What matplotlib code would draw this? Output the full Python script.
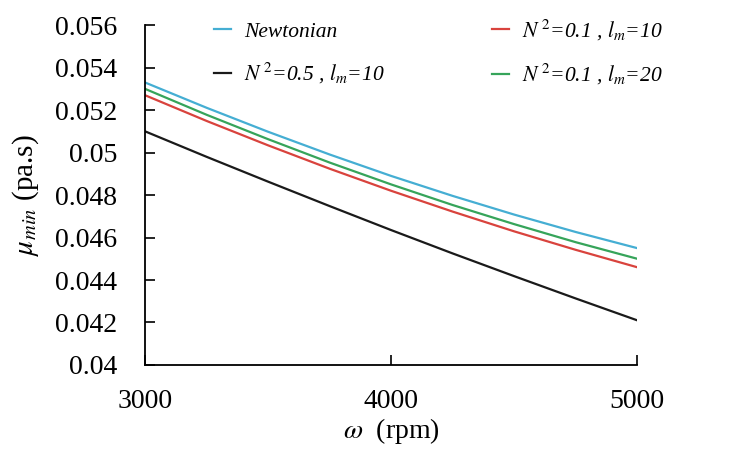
import numpy as np
import matplotlib.pyplot as plt

plt.rcParams['font.family'] = ['Liberation Serif', 'DejaVu Serif']
plt.rcParams['mathtext.fontset'] = 'stix'

# data
omega = [3000, 3250, 3500, 3750, 4000, 4250, 4500, 4750, 5000]
mu_newton = [0.0533, 0.05211, 0.05098, 0.04991, 0.0489, 0.04796, 0.04708, 0.04626, 0.0455]
mu_n05_l10 = [0.0510, 0.04980, 0.04863, 0.04748, 0.04635, 0.04525, 0.04418, 0.04313, 0.0421]
mu_n01_l10 = [0.0527, 0.05149, 0.05034, 0.04924, 0.0482, 0.04722, 0.04629, 0.04542, 0.0446]
mu_n01_l20 = [0.0530, 0.05178, 0.05063, 0.04953, 0.0485, 0.04753, 0.04663, 0.04578, 0.0450]

fig = plt.figure(figsize=(7.56, 4.5), dpi=100)
ax = fig.add_axes([0.192, 0.189, 0.651, 0.755])

l1, = ax.plot(omega, mu_newton, color='#45aed3', lw=1.6, label='Newtonian')
l2, = ax.plot(omega, mu_n05_l10, color='#1a1a1a', lw=1.6, label=r'$N^{\,2}$=0.5 , $l_m$=10')
l3, = ax.plot(omega, mu_n01_l10, color='#d9433d', lw=1.6, label=r'$N^{\,2}$=0.1 , $l_m$=10')
l4, = ax.plot(omega, mu_n01_l20, color='#36a45a', lw=1.6, label=r'$N^{\,2}$=0.1 , $l_m$=20')

ax.set_xlim(3000, 5000)
ax.set_ylim(0.04, 0.056)
ax.set_xticks([3000, 4000, 5000])
ax.set_yticks(np.arange(0.04, 0.0561, 0.002))
ax.set_yticklabels(['0.04', '0.042', '0.044', '0.046', '0.048', '0.05', '0.052', '0.054', '0.056'])
ax.tick_params(direction='in', length=7, width=1.2, labelsize=20)
ax.tick_params(axis='y', pad=20)
ax.tick_params(axis='x', pad=17)
for s in ['top', 'right']:
    ax.spines[s].set_visible(False)
for s in ['left', 'bottom']:
    ax.spines[s].set_linewidth(1.3)

ax.set_xlabel(r'$\omega$  (rpm)', fontsize=20, labelpad=2)
ax.set_ylabel(r'$\mu_{min}$ (pa.s)', fontsize=21, labelpad=10)

ax.legend(handles=[l1, l2, l3, l4], ncol=2, loc='upper left',
          bbox_to_anchor=(0.10, 1.08), frameon=False,
          prop={'style': 'italic', 'size': 15.5}, handlelength=0.8,
          handletextpad=0.6, columnspacing=5.0, labelspacing=0.9)

fig.savefig('out.png', dpi=100)
